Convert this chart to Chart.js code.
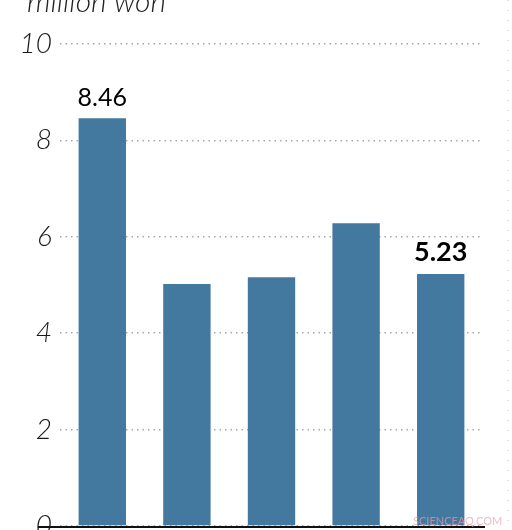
<!DOCTYPE html>
<html>
<head>
<meta charset="utf-8">
<script src="https://cdn.jsdelivr.net/npm/chart.js@4/dist/chart.umd.min.js"></script>
<style>
  html, body { margin: 0; padding: 0; background: #ffffff; }
  #wrap { position: relative; width: 512px; height: 530px; }
</style>
</head>
<body>
<div id="wrap"><canvas id="wonChart" width="512" height="530"></canvas></div>
<script>
const categories = ["A", "B", "C", "D", "E"];
const values = [8.46, 5.02, 5.16, 6.28, 5.23];
const valueLabels = ["8.46", "", "", "", "5.23"];
const boldLabel = [false, false, false, false, true];
const yTicks = [0, 2, 4, 6, 8, 10];
const unitTitle = "million won";
const watermark = "SCIENCEAQ.COM";

const BAR_COLOR = "#43789f";
const FONT = "Lato, 'Open Sans', sans-serif";

// title, baseline, value labels and the page edge
const decorPlugin = {
  id: "decor",
  afterDraw: function (chart) {
    const ctx = chart.ctx;
    const area = chart.chartArea;
    const meta = chart.getDatasetMeta(0);

    ctx.save();

    ctx.fillStyle = "#222";
    ctx.font = "italic 300 30px " + FONT;
    ctx.textAlign = "left";
    ctx.textBaseline = "alphabetic";
    ctx.fillText(unitTitle, 27, 12);

    ctx.strokeStyle = "#111";
    ctx.lineWidth = 2;
    ctx.beginPath();
    ctx.moveTo(38, area.bottom + 1);
    ctx.lineTo(485, area.bottom + 1);
    ctx.stroke();

    ctx.fillStyle = "#000";
    ctx.textAlign = "center";
    ctx.textBaseline = "bottom";
    meta.data.forEach(function (bar, i) {
      if (!valueLabels[i]) {
        return;
      }
      ctx.font = boldLabel[i] ? "bold 27px " + FONT : "25px " + FONT;
      ctx.fillText(valueLabels[i], bar.x, bar.y - 8);
    });

    ctx.strokeStyle = "#c8c8c8";
    ctx.lineWidth = 1;
    ctx.setLineDash([1, 9]);
    ctx.beginPath();
    ctx.moveTo(508, 0);
    ctx.lineTo(508, 530);
    ctx.stroke();
    ctx.setLineDash([]);

    ctx.fillStyle = "rgba(230, 160, 170, 0.7)";
    ctx.font = "11px " + FONT;
    ctx.textAlign = "left";
    ctx.textBaseline = "middle";
    ctx.fillText(watermark, 413, 521);

    ctx.restore();
  }
};

new Chart(document.getElementById("wonChart"), {
  type: "bar",
  data: {
    labels: categories,
    datasets: [{
      data: values,
      backgroundColor: BAR_COLOR,
      barPercentage: 0.56,
      categoryPercentage: 1
    }]
  },
  options: {
    responsive: false,
    animation: false,
    events: [],
    layout: {
      padding: { top: 44, right: 29, bottom: 4, left: 0 }
    },
    plugins: {
      legend: { display: false },
      tooltip: { enabled: false }
    },
    scales: {
      x: {
        display: false
      },
      y: {
        min: 0,
        max: 10,
        afterFit: function (scale) {
          scale.width = 60;
          scale.paddingTop = 0;
          scale.paddingBottom = 0;
        },
        afterBuildTicks: function (scale) {
          scale.ticks = yTicks.map(function (v) {
            return { value: v };
          });
        },
        border: { display: false, dash: [1.5, 4] },
        grid: {
          color: "#a8a8a8",
          lineWidth: 1.5,
          drawTicks: false
        },
        ticks: {
          color: "#1a1a1a",
          padding: 8,
          font: { family: FONT, size: 28, style: "italic", weight: 300 }
        }
      }
    }
  },
  plugins: [decorPlugin]
});
</script>
</body>
</html>
